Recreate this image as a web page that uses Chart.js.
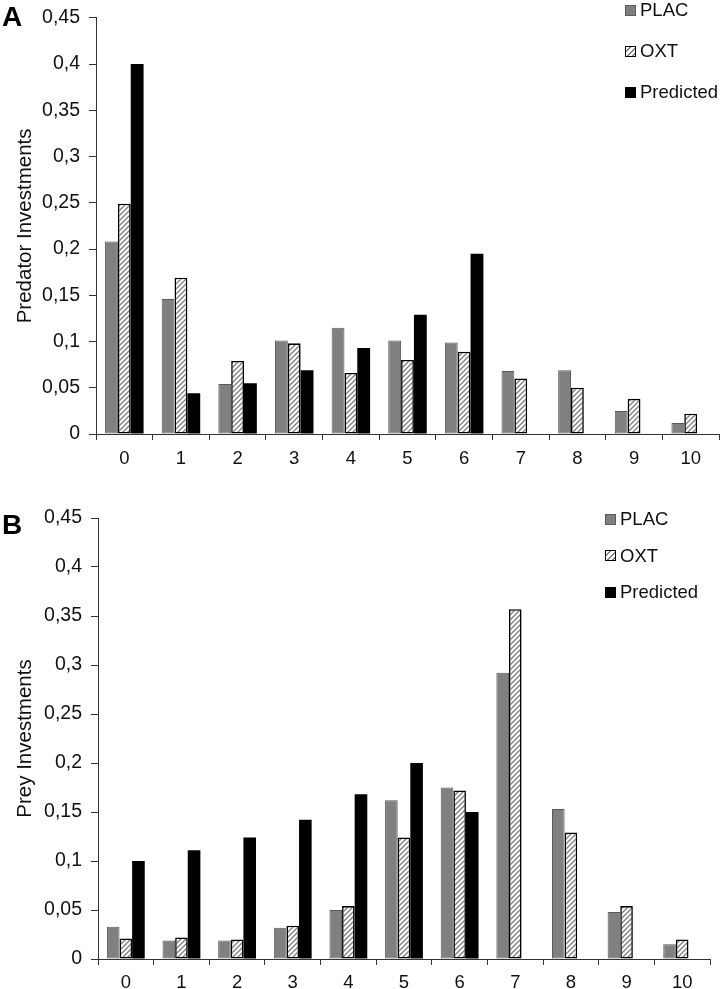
<!DOCTYPE html>
<html>
<head>
<meta charset="utf-8">
<script src="https://cdn.jsdelivr.net/npm/chart.js@4.4.0/dist/chart.umd.min.js"></script>
<style>
body{margin:0;background:#fff;font-family:"Liberation Sans",Arial,sans-serif;}
#page{position:relative;width:720px;height:989px;overflow:hidden;}
canvas{position:absolute;left:0;}
.panel{position:absolute;left:2px;font-weight:bold;font-size:28px;line-height:1;color:#000;}
.legend{position:absolute;font-size:18.5px;color:#111;}
.legend .row{position:absolute;left:0;display:flex;align-items:center;height:20px;white-space:nowrap;}
.sw{width:9px;height:9px;border:1px solid #333;margin-right:4px;}
</style>
</head>
<body>
<div id="page">
  <canvas id="chartA" width="720" height="480" style="top:0"></canvas>
  <canvas id="chartB" width="720" height="489" style="top:500px"></canvas>
  <div class="panel" style="top:3px">A</div>
  <div class="panel" style="top:511px">B</div>
  <div class="legend" id="legendA" style="left:625px;top:0"></div>
  <div class="legend" id="legendB" style="left:605px;top:509px"></div>
</div>
<script>
// x categories (number of units invested)
const labels = ['0','1','2','3','4','5','6','7','8','9','10'];
const seriesNames = ['PLAC','OXT','Predicted'];

// Panel A - predator investments
const predatorPlac = [0.208,0.146,0.054,0.101,0.115,0.101,0.099,0.068,0.069,0.025,0.012];
const predatorOxt = [0.249,0.169,0.079,0.098,0.066,0.080,0.089,0.060,0.050,0.038,0.022];
const predatorPredicted = [0.400,0.044,0.055,0.069,0.093,0.129,0.195,null,null,null,null];

// Panel B - prey investments
const preyPlac = [0.033,0.019,0.019,0.032,0.050,0.162,0.175,0.292,0.153,0.048,0.015];
const preyOxt = [0.021,0.022,0.020,0.034,0.054,0.124,0.172,0.357,0.129,0.054,0.020];
const preyPredicted = [0.100,0.111,0.124,0.142,0.168,0.200,0.150,null,null,null,null];

const FONT = '"Liberation Sans", Arial, sans-serif';
const AXIS = '#333';

//diagonal hatching for the OXT bars
function hatch() {
  const c = document.createElement('canvas');
  c.width = 5; c.height = 5;
  const g = c.getContext('2d');
  g.fillStyle = '#fff';
  g.fillRect(0, 0, 5, 5);
  g.strokeStyle = '#808080';
  g.lineWidth = 1.4;
  g.beginPath();
  g.moveTo(-1, 6); g.lineTo(6, -1);
  g.moveTo(-1, 1); g.lineTo(1, -1);
  g.moveTo(4, 6); g.lineTo(6, 4);
  g.stroke();
  return g.createPattern(c, 'repeat');
}

function makeChart(id, plac, oxt, pred, yTitle, box) {
  const ctx = document.getElementById(id).getContext('2d');
  return new Chart(ctx, {
    type: 'bar',
    data: {
      labels: labels,
      datasets: [
        {label: seriesNames[0], data: plac, backgroundColor: '#808080', borderColor: '#5a5a5a', borderWidth: 1},
        {label: seriesNames[1], data: oxt, backgroundColor: hatch(), borderColor: '#000', borderWidth: 1.6},
        {label: seriesNames[2], data: pred, backgroundColor: '#000', borderColor: '#000', borderWidth: 0}
      ]
    },
    options: {
      responsive: false,
      animation: false,
      datasets: {bar: {categoryPercentage: 0.68, barPercentage: 1, borderSkipped: false}},
      layout: {padding: {top: box.top, right: box.right, left: 0, bottom: 0}},
      plugins: {legend: {display: false}, tooltip: {enabled: false}},
      scales: {
        x: {
          grid: {display: true, drawOnChartArea: false, drawTicks: true, tickLength: 6, color: AXIS, offset: true},
          border: {display: true, color: AXIS, width: 1},
          ticks: {color: '#111', font: {family: FONT, size: 18.5}, padding: box.xPad, maxRotation: 0},
          afterFit: (s) => { s.height = box.xh; }
        },
        y: {
          min: 0, max: 0.45,
          grid: {display: true, drawOnChartArea: false, drawTicks: true, tickLength: 7, color: AXIS},
          border: {display: true, color: AXIS, width: 1},
          ticks: {
            stepSize: 0.05, color: '#111', padding: 9,
            font: {family: FONT, size: 19.5, lineHeight: 0.9},
            callback: (v) => String(+v.toFixed(2)).replace('.', ',')
          },
          title: {display: true, text: yTitle, color: '#111', font: {family: FONT, size: 20.5}, padding: {top: 13, bottom: 0}},
          afterFit: (s) => { s.width = box.left; }
        }
      }
    }
  });
}

makeChart('chartA', predatorPlac, predatorOxt, predatorPredicted, 'Predator Investments',
  {top: 8, right: 1, left: 96, xh: 46, xPad: 8});
makeChart('chartB', preyPlac, preyOxt, preyPredicted, 'Prey Investments',
  {top: 18, right: 10, left: 98, xh: 30, xPad: 7});

//legend boxes, drawn as html next to the charts
function legend(id, gap) {
  const el = document.getElementById(id);
  const swatch = [
    'background:#808080;border-color:#5a5a5a',
    'background:repeating-linear-gradient(135deg,#fff 0 2.5px,#808080 2.5px 4px);border-color:#000',
    'background:#000;border-color:#000'
  ];
  seriesNames.forEach((name, i) => {
    const row = document.createElement('div');
    row.className = 'row';
    row.style.top = (i * gap) + 'px';
    row.innerHTML = '<span class="sw" style="' + swatch[i] + '"></span>' + name;
    el.appendChild(row);
  });
}
legend('legendA', 41);
legend('legendB', 36.5);
</script>
</body>
</html>
